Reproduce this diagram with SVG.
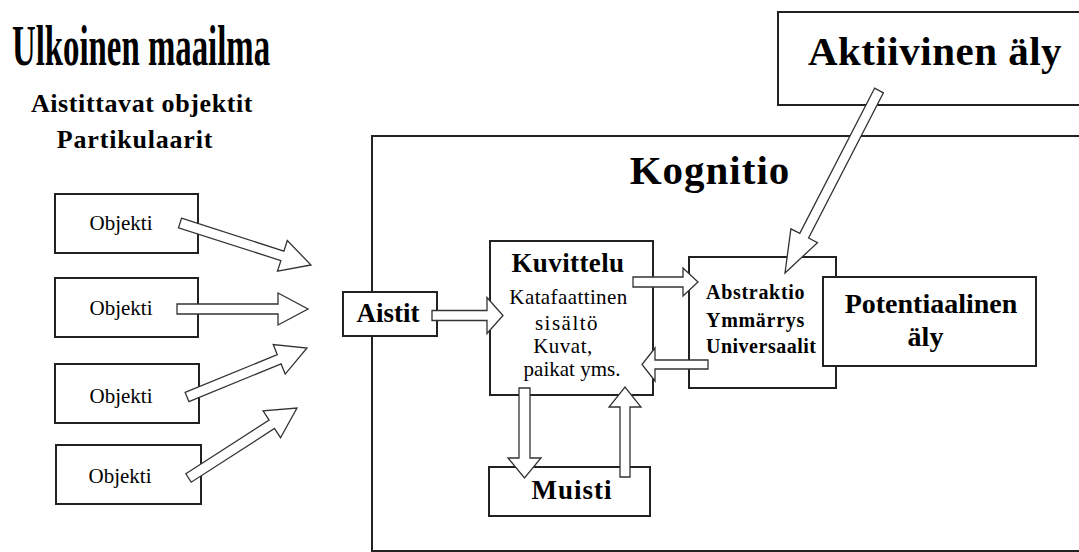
<svg xmlns="http://www.w3.org/2000/svg" width="1079" height="552" viewBox="0 0 1079 552">
<rect width="1079" height="552" fill="#fff"/>
<g id="titles" font-family="Liberation Serif, serif" font-weight="bold" fill="#000">
<text style="font-family:'Liberation Serif',serif !important" font-size="57" transform="translate(12,65) scale(0.576,1)" x="0" y="0">Ulkoinen maailma</text>
<text style="font-family:'Liberation Serif',serif !important" font-size="26" x="142" y="112" text-anchor="middle" letter-spacing="0.6">Aistittavat objektit</text>
<text style="font-family:'Liberation Serif',serif !important" font-size="26" x="135" y="148" text-anchor="middle" letter-spacing="0.8">Partikulaarit</text>
</g>
<g id="nodes" fill="#fff" stroke="#222" stroke-width="2">
<g id="kognitio">
<rect x="372" y="136" width="720" height="415"/>
<text style="font-family:'Liberation Serif',serif !important" font-weight="bold" fill="#000" stroke="none" font-size="41" x="710" y="184" text-anchor="middle" letter-spacing="1">Kognitio</text>
</g>
<g id="aktiivinen">
<rect x="778" y="12" width="310" height="93"/>
<text style="font-family:'Liberation Serif',serif !important" font-weight="bold" fill="#000" stroke="none" font-size="41" x="935" y="65" text-anchor="middle" letter-spacing="0.5">Aktiivinen äly</text>
</g>
<g id="objekti1">
<rect x="55" y="194" width="143" height="59"/>
<text style="font-family:'Liberation Serif',serif !important" fill="#000" stroke="none" font-size="21" x="121" y="230" text-anchor="middle">Objekti</text>
</g>
<g id="objekti2">
<rect x="55" y="278" width="143" height="59"/>
<text style="font-family:'Liberation Serif',serif !important" fill="#000" stroke="none" font-size="21" x="121" y="315" text-anchor="middle">Objekti</text>
</g>
<g id="objekti3">
<rect x="55" y="364" width="144" height="59"/>
<text style="font-family:'Liberation Serif',serif !important" fill="#000" stroke="none" font-size="21" x="121" y="403" text-anchor="middle">Objekti</text>
</g>
<g id="objekti4">
<rect x="56" y="445" width="145" height="59"/>
<text style="font-family:'Liberation Serif',serif !important" fill="#000" stroke="none" font-size="21" x="120" y="483" text-anchor="middle">Objekti</text>
</g>
<g id="aistit">
<rect x="343" y="292" width="94" height="44"/>
<text style="font-family:'Liberation Serif',serif !important" font-weight="bold" fill="#000" stroke="none" font-size="27" x="388" y="322" text-anchor="middle">Aistit</text>
</g>
<g id="kuvittelu">
<rect x="490" y="241" width="163" height="154"/>
<text style="font-family:'Liberation Serif',serif !important" font-weight="bold" fill="#000" stroke="none" font-size="27" x="568" y="272" text-anchor="middle" letter-spacing="0.4">Kuvittelu</text>
<text style="font-family:'Liberation Serif',serif !important" fill="#000" stroke="none" font-size="21" x="568.5" y="304" text-anchor="middle" letter-spacing="0.4">Katafaattinen</text>
<text style="font-family:'Liberation Serif',serif !important" fill="#000" stroke="none" font-size="21" x="567" y="330" text-anchor="middle" letter-spacing="1.5">sisältö</text>
<text style="font-family:'Liberation Serif',serif !important" fill="#000" stroke="none" font-size="21" x="563" y="353" text-anchor="middle" letter-spacing="0.5">Kuvat,</text>
<text style="font-family:'Liberation Serif',serif !important" fill="#000" stroke="none" font-size="21" x="572" y="376" text-anchor="middle">paikat yms.</text>
</g>
<g id="abstraktio">
<rect x="689" y="257" width="147" height="131"/>
<text style="font-family:'Liberation Serif',serif !important" font-weight="bold" fill="#000" stroke="none" font-size="20" x="706" y="299" letter-spacing="0.7">Abstraktio</text>
<text style="font-family:'Liberation Serif',serif !important" font-weight="bold" fill="#000" stroke="none" font-size="20" x="706" y="327" letter-spacing="0.7">Ymmärrys</text>
<text style="font-family:'Liberation Serif',serif !important" font-weight="bold" fill="#000" stroke="none" font-size="20" x="706" y="353" letter-spacing="0.5">Universaalit</text>
</g>
<g id="potentiaalinen">
<rect x="823" y="277" width="213" height="89"/>
<text style="font-family:'Liberation Serif',serif !important" font-weight="bold" fill="#000" stroke="none" font-size="28" x="931" y="313" text-anchor="middle">Potentiaalinen</text>
<text style="font-family:'Liberation Serif',serif !important" font-weight="bold" fill="#000" stroke="none" font-size="28" x="925.5" y="346" text-anchor="middle">äly</text>
</g>
<g id="muisti">
<rect x="489" y="467" width="161" height="49"/>
<text style="font-family:'Liberation Serif',serif !important" font-weight="bold" fill="#000" stroke="none" font-size="27" x="572" y="499" text-anchor="middle" letter-spacing="1">Muisti</text>
</g>
</g>
<g id="connectors" fill="#fff" stroke="#333" stroke-width="1.3">
<polygon points="181.5,218.2 283.9,251.1 287.3,240.6 311,265 277.5,271.1 280.9,260.6 178.5,227.8"/>
<polygon points="177,304 278,304 278,293 308,309 278,325 278,314 177,314"/>
<polygon points="185.1,392.4 277.3,354.7 273.2,344.5 307,348 285.2,374.1 281.1,363.9 188.9,401.6"/>
<polygon points="185.8,473.8 269.1,420.1 263.1,410.9 297,408 280.5,437.7 274.5,428.5 191.2,482.2"/>
<polygon points="432,310.5 487,310.5 487,297.5 503,315.5 487,333.5 487,320.5 432,320.5"/>
<polygon points="633,277 683,277 683,268 698,282 683,296 683,287 633,287"/>
<polygon points="708,360 655,360 655,348 642,364.5 655,381 655,369 708,369"/>
<polygon points="519,388 519,458 508,458 524.5,478 541,458 530,458 530,388"/>
<polygon points="620,477 620,407 609,407 625,387 641,407 630,407 630,477"/>
<polygon points="874.6,88.2 799.8,233.4 790.9,228.8 785,273 817.5,242.6 808.6,238 883.4,92.8"/>
</g>
</svg>
